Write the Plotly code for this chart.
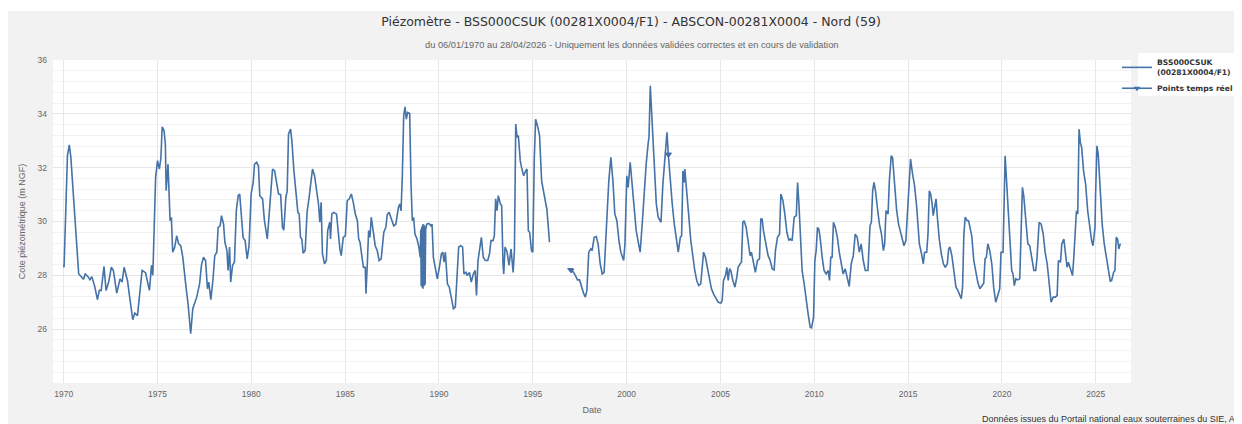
import plotly.graph_objects as go
from datetime import datetime, timedelta

# ---------------- data (decimal years, m NGF) ----------------
dates_dec = [
    1970.00, 1970.02, 1970.20, 1970.30, 1970.38, 1970.55, 1970.69, 1970.80, 1970.94, 1971.05,
    1971.15, 1971.30, 1971.40, 1971.50, 1971.65, 1971.80, 1971.90, 1972.00, 1972.15, 1972.26,
    1972.40, 1972.54, 1972.65, 1972.83, 1973.00, 1973.11, 1973.22, 1973.40, 1973.54, 1973.68,
    1973.79, 1973.93, 1974.18, 1974.36, 1974.57, 1974.68, 1974.75, 1974.90, 1975.00, 1975.10,
    1975.18, 1975.25, 1975.35, 1975.42, 1975.46, 1975.56, 1975.67, 1975.74, 1975.81, 1975.92,
    1976.02, 1976.13, 1976.24, 1976.35, 1976.52, 1976.63, 1976.77, 1976.88, 1977.09, 1977.24,
    1977.34, 1977.45, 1977.56, 1977.66, 1977.73, 1977.84, 1977.95, 1978.05, 1978.16, 1978.23,
    1978.34, 1978.41, 1978.52, 1978.59, 1978.70, 1978.76, 1978.84, 1978.90, 1979.00, 1979.10,
    1979.20, 1979.30, 1979.38, 1979.49, 1979.56, 1979.67, 1979.78, 1979.88, 1979.99, 1980.10,
    1980.17, 1980.28, 1980.38, 1980.45, 1980.60, 1980.70, 1980.85, 1980.90, 1981.02, 1981.13,
    1981.24, 1981.35, 1981.45, 1981.56, 1981.66, 1981.73, 1981.84, 1981.91, 1981.98, 1982.09,
    1982.16, 1982.27, 1982.37, 1982.48, 1982.55, 1982.62, 1982.69, 1982.76, 1982.87, 1982.97,
    1983.08, 1983.19, 1983.26, 1983.37, 1983.47, 1983.58, 1983.65, 1983.72, 1983.79, 1983.90,
    1984.00, 1984.07, 1984.18, 1984.22, 1984.29, 1984.39, 1984.54, 1984.66, 1984.72, 1984.79,
    1984.90, 1985.01, 1985.11, 1985.22, 1985.33, 1985.43, 1985.54, 1985.65, 1985.72, 1985.79,
    1985.86, 1985.97, 1986.07, 1986.11, 1986.18, 1986.25, 1986.32, 1986.39, 1986.49, 1986.60,
    1986.71, 1986.81, 1986.92, 1987.06, 1987.17, 1987.24, 1987.34, 1987.45, 1987.59, 1987.70,
    1987.84, 1987.91, 1987.98, 1988.05, 1988.12, 1988.19, 1988.26, 1988.33, 1988.44, 1988.51,
    1988.58, 1988.65, 1988.72, 1988.83, 1988.93, 1989.00, 1989.03, 1989.05, 1989.08, 1989.10,
    1989.13, 1989.15, 1989.18, 1989.20, 1989.23, 1989.26, 1989.29, 1989.35, 1989.46, 1989.56,
    1989.63, 1989.70, 1989.81, 1989.91, 1990.02, 1990.13, 1990.20, 1990.27, 1990.34, 1990.45,
    1990.55, 1990.66, 1990.77, 1990.87, 1990.98, 1991.05, 1991.16, 1991.26, 1991.33, 1991.44,
    1991.51, 1991.62, 1991.72, 1991.83, 1991.93, 1992.00, 1992.08, 1992.18, 1992.26, 1992.36,
    1992.47, 1992.60, 1992.70, 1992.77, 1992.88, 1992.95, 1993.02, 1993.09, 1993.16, 1993.27,
    1993.34, 1993.41, 1993.45, 1993.52, 1993.63, 1993.73, 1993.84, 1993.95, 1994.02, 1994.09,
    1994.16, 1994.23, 1994.33, 1994.40, 1994.51, 1994.62, 1994.69, 1994.76, 1994.83, 1994.93,
    1995.00, 1995.08, 1995.15, 1995.25, 1995.36, 1995.47, 1995.58, 1995.68, 1995.75, 1995.82,
    1995.89, 1996.40,
    1997.03, 1997.17, 1997.27, 1997.38, 1997.49, 1997.59, 1997.70, 1997.80, 1997.88, 1997.98,
    1998.09, 1998.16, 1998.27, 1998.38, 1998.48, 1998.59, 1998.70, 1998.80, 1998.91, 1999.05,
    1999.16, 1999.27, 1999.37, 1999.48, 1999.59, 1999.69, 1999.84, 1999.91, 2000.01, 2000.08,
    2000.19, 2000.30, 2000.40, 2000.51, 2000.62, 2000.72, 2000.83, 2000.94, 2001.04, 2001.15,
    2001.19, 2001.26, 2001.36, 2001.47, 2001.58, 2001.68, 2001.83, 2001.93, 2002.04, 2002.15,
    2002.22, 2002.32, 2002.43, 2002.54, 2002.64, 2002.75, 2002.86, 2002.93, 2003.00, 2003.07,
    2003.10, 2003.21, 2003.31, 2003.42, 2003.52, 2003.63, 2003.74, 2003.84, 2003.95, 2004.02,
    2004.10, 2004.20, 2004.31, 2004.42, 2004.52, 2004.63, 2004.74, 2004.88, 2005.02, 2005.09,
    2005.16, 2005.27, 2005.34, 2005.41, 2005.48, 2005.55, 2005.66, 2005.77, 2005.87, 2005.94,
    2006.05, 2006.12, 2006.19, 2006.26, 2006.37, 2006.47, 2006.58, 2006.65, 2006.76, 2006.86,
    2006.97, 2007.08, 2007.15, 2007.22, 2007.29, 2007.40, 2007.54, 2007.65, 2007.76, 2007.86,
    2007.93, 2008.04, 2008.15, 2008.22, 2008.33, 2008.43, 2008.54, 2008.65, 2008.72, 2008.82,
    2008.93, 2009.04, 2009.11, 2009.18, 2009.25, 2009.35, 2009.46, 2009.57, 2009.67, 2009.78,
    2009.85, 2009.96, 2010.03, 2010.10, 2010.17, 2010.24, 2010.31, 2010.42, 2010.52, 2010.63,
    2010.74, 2010.81, 2010.88, 2010.95, 2011.02, 2011.12, 2011.23, 2011.33, 2011.44, 2011.54,
    2011.65, 2011.76, 2011.86, 2011.97, 2012.08, 2012.18, 2012.29, 2012.40, 2012.50, 2012.61,
    2012.72, 2012.86, 2012.97, 2013.04, 2013.11, 2013.18, 2013.26, 2013.36, 2013.47, 2013.58,
    2013.68, 2013.75, 2013.82, 2013.93, 2014.00, 2014.10, 2014.17, 2014.28, 2014.39, 2014.49,
    2014.60, 2014.71, 2014.78, 2014.88, 2014.99, 2015.06, 2015.13, 2015.24, 2015.34, 2015.45,
    2015.60, 2015.71, 2015.81, 2015.88, 2015.99, 2016.06, 2016.13, 2016.20, 2016.27, 2016.34,
    2016.42, 2016.49, 2016.56, 2016.66, 2016.77, 2016.88, 2016.98, 2017.09, 2017.16, 2017.23,
    2017.33, 2017.44, 2017.55, 2017.65, 2017.76, 2017.83, 2017.90, 2017.97, 2018.04, 2018.15,
    2018.22, 2018.29, 2018.39, 2018.50, 2018.61, 2018.71, 2018.82, 2018.93, 2019.03, 2019.10,
    2019.17, 2019.25, 2019.35, 2019.46, 2019.56, 2019.67, 2019.78, 2019.88, 2019.95, 2020.06,
    2020.17, 2020.24, 2020.31, 2020.42, 2020.52, 2020.59, 2020.66, 2020.74, 2020.84, 2020.95,
    2021.02, 2021.09, 2021.16, 2021.27, 2021.38, 2021.48, 2021.59, 2021.70, 2021.80, 2021.87,
    2021.98, 2022.09, 2022.20, 2022.30, 2022.41, 2022.52, 2022.62, 2022.73, 2022.84, 2022.94,
    2023.01, 2023.12, 2023.19, 2023.30, 2023.37, 2023.47, 2023.54, 2023.65, 2023.76, 2023.83,
    2023.90, 2023.97, 2024.04, 2024.11, 2024.18, 2024.25, 2024.35, 2024.46, 2024.57, 2024.67,
    2024.78, 2024.85, 2024.96, 2024.99, 2025.06, 2025.13, 2025.24, 2025.34, 2025.45, 2025.56,
    2025.66, 2025.77, 2025.84, 2025.95, 2026.02, 2026.09, 2026.16, 2026.23, 2026.30, 2026.32,
]

levels = [
    28.39, 28.30, 32.44, 32.85, 32.40, 30.65, 29.17, 28.05, 27.95, 27.85,
    28.05, 27.95, 27.84, 27.95, 27.60, 27.10, 27.44, 27.44, 28.33, 27.44,
    27.75, 28.30, 28.18, 27.34, 27.87, 27.75, 28.30, 27.80, 27.06, 26.35,
    26.60, 26.50, 28.18, 28.10, 27.44, 28.37, 28.00, 31.64, 32.26, 31.95,
    32.35, 33.52, 33.37, 32.87, 31.14, 32.13, 30.03, 30.16, 28.86, 29.05,
    29.47, 29.17, 29.10, 28.67, 27.56, 26.94, 25.83, 26.76, 27.19, 27.68,
    28.37, 28.67, 28.55, 27.50, 27.75, 27.10, 27.80, 28.73, 28.86, 29.78,
    29.84, 30.22, 29.90, 29.23, 28.92, 28.18, 29.05, 27.75, 28.37, 28.49,
    30.40, 30.96, 31.02, 30.16, 29.41, 29.29, 28.61, 29.10, 31.02, 31.45,
    32.13, 32.20, 32.07, 30.96, 30.84, 30.03, 29.35, 29.78, 30.90, 31.95,
    31.88, 31.33, 31.02, 31.00, 29.78, 29.68, 30.90, 31.14, 33.25, 33.43,
    33.00, 31.88, 31.02, 30.34, 30.28, 29.41, 29.35, 28.82, 28.92, 30.34,
    30.90, 31.64, 31.95, 31.70, 31.27, 30.65, 29.97, 30.71, 28.80, 28.43,
    28.55, 29.66, 29.97, 29.35, 30.28, 30.34, 30.28, 29.29, 28.98, 28.73,
    29.41, 29.47, 30.77, 30.84, 31.02, 30.71, 30.28, 30.03, 29.35, 29.23,
    28.92, 28.30, 28.30, 27.32, 28.43, 29.66, 29.41, 30.16, 29.66, 29.10,
    28.92, 28.55, 28.61, 29.60, 29.78, 30.25, 30.34, 30.09, 29.84, 29.90,
    30.52, 30.65, 30.40, 31.76, 33.92, 34.26, 33.80, 34.05, 34.01, 31.39,
    30.03, 30.16, 29.53, 29.35, 29.05, 28.67, 29.70, 27.60, 29.80, 27.55,
    29.90, 27.50, 29.90, 27.60, 29.85, 27.65, 29.70, 29.90, 29.93, 29.84,
    29.90, 28.67, 28.24, 27.87, 28.30, 28.80, 28.86, 28.49, 28.86, 27.68,
    27.56, 27.19, 26.76, 26.82, 28.18, 29.05, 29.10, 29.05, 28.05, 28.11,
    27.99, 28.11, 27.75, 28.05, 28.18, 27.25, 28.55, 29.05, 29.41, 28.67,
    28.55, 28.55, 28.82, 29.29, 29.29, 29.47, 30.84, 30.40, 30.96, 30.65,
    30.59, 28.43, 28.05, 29.05, 28.86, 28.37, 28.98, 28.11, 28.92, 33.62,
    33.13, 33.19, 32.26, 32.01, 31.70, 31.88, 31.95, 29.66, 29.60, 28.92,
    28.86, 32.38, 33.80, 33.55, 33.19, 31.51, 31.02, 30.71, 30.46, 29.78,
    29.23, None,
    28.20, 28.11, 27.99, 27.83, 27.83, 27.56, 27.34, 27.19, 27.44, 28.86,
    28.98, 28.92, 29.41, 29.44, 29.17, 28.43, 28.05, 28.11, 29.66, 31.51,
    32.38, 31.51, 30.28, 30.03, 29.29, 28.86, 28.55, 29.17, 31.70, 31.27,
    32.20, 31.39, 30.52, 29.66, 29.23, 28.86, 29.90, 31.14, 32.13, 32.93,
    33.13, 35.04, 33.62, 32.01, 30.65, 30.16, 29.97, 31.39, 32.32, 33.31,
    32.50, 31.51, 30.65, 29.90, 29.47, 28.86, 29.41, 29.47, 31.88, 31.45,
    31.95, 31.14, 30.22, 29.29, 28.67, 28.18, 27.80, 27.62, 27.68, 28.20,
    28.86, 28.67, 28.30, 27.87, 27.50, 27.31, 27.19, 27.00, 26.97, 27.06,
    27.81, 27.99, 28.30, 27.81, 28.24, 28.18, 27.81, 27.56, 27.93, 28.30,
    28.43, 28.49, 29.97, 30.03, 29.78, 29.29, 28.73, 28.86, 28.43, 28.11,
    28.55, 28.61, 30.09, 30.09, 29.66, 29.23, 28.73, 28.55, 28.24, 28.20,
    28.92, 29.41, 29.53, 31.02, 30.77, 30.28, 29.60, 29.29, 29.35, 29.29,
    30.16, 30.22, 31.45, 30.65, 29.41, 28.18, 27.68, 27.19, 26.57, 26.07,
    26.05, 26.45, 28.55, 28.92, 29.78, 29.72, 29.41, 28.67, 28.18, 28.05,
    28.18, 27.81, 28.67, 28.67, 29.97, 29.78, 29.41, 28.86, 28.43, 28.05,
    28.24, 27.87, 27.59, 28.43, 28.73, 29.53, 29.41, 28.86, 29.17, 28.55,
    28.18, 28.18, 29.84, 29.97, 31.14, 31.45, 31.14, 30.52, 29.90, 29.53,
    28.92, 29.17, 30.40, 30.28, 31.51, 32.44, 32.38, 31.39, 30.40, 29.90,
    29.60, 29.29, 29.10, 29.29, 30.77, 31.88, 32.32, 31.75, 31.35, 30.60,
    29.17, 28.82, 28.43, 28.86, 28.86, 29.53, 31.14, 31.02, 30.71, 30.22,
    30.65, 30.84, 30.16, 29.35, 28.80, 28.43, 28.30, 28.43, 28.98, 29.05,
    28.73, 28.18, 27.56, 27.44, 27.25, 27.13, 27.56, 29.53, 30.16, 30.03,
    30.03, 29.78, 29.47, 28.55, 28.05, 27.75, 27.50, 27.62, 27.71, 28.61,
    28.67, 29.17, 28.92, 28.43, 27.56, 27.00, 27.31, 27.50, 28.86, 28.86,
    32.44, 31.64, 30.40, 29.17, 28.18, 28.05, 27.62, 27.87, 27.83, 27.87,
    29.90, 31.27, 30.96, 30.16, 29.17, 29.10, 28.67, 28.18, 28.18, 28.67,
    29.97, 29.90, 29.53, 28.86, 28.43, 27.68, 27.00, 27.19, 27.19, 27.25,
    28.55, 28.49, 29.17, 29.35, 28.98, 28.30, 28.49, 28.24, 27.99, 28.67,
    29.66, 30.40, 30.28, 33.43, 32.93, 32.75, 31.88, 31.39, 30.40, 29.78,
    29.29, 29.10, 29.78, 30.96, 32.81, 32.50, 31.27, 29.90, 29.17, 28.67,
    28.11, 27.78, 27.80, 28.11, 28.18, 29.41, 29.35, 28.98, 29.17, 29.14,
]

# "Points temps réel" (real-time points)
rt_dates_dec = [1997.00, 1997.04, None, 2002.20, 2002.25]
rt_levels = [28.22, 28.18, None, 32.50, 32.50]

series_name = "BSS000CSUK<br>(00281X0004/F1)"
rt_name = "Points temps réel"
title_text = "Piézomètre - BSS000CSUK (00281X0004/F1) - ABSCON-00281X0004 - Nord (59)"
subtitle_text = "du 06/01/1970 au 28/04/2026 - Uniquement les données validées correctes et en cours de validation"
footer_text = "Données issues du Portail national eaux souterraines du SIE, ADES"
y_ticks = [26, 28, 30, 32, 34, 36]


def dec2date(y):
    if y is None:
        return None
    yr = int(y)
    return datetime(yr, 1, 1) + timedelta(days=(y - yr) * 365.25)


x_main = [dec2date(d) for d in dates_dec]
x_rt = [dec2date(d) for d in rt_dates_dec]

LINE = "#4572a7"
FONT = "Liberation Sans"

fig = go.Figure()
fig.add_trace(go.Scatter(
    x=x_main, y=levels, mode="lines", name=series_name,
    line=dict(color=LINE, width=1.6), connectgaps=False,
))
fig.add_trace(go.Scatter(
    x=x_rt, y=rt_levels, mode="lines+markers", name=rt_name,
    line=dict(color=LINE, width=1.6),
    marker=dict(symbol="triangle-down", size=6, color=LINE),
    connectgaps=False,
))

# figure is placed by the page at an 8px offset; work in figure pixels
W, H = 1234, 416
L, R, T, B = 45, 111, 52, 41
pw, ph = W - L - R, H - T - B


def px(xp):
    return (xp - L) / pw


def py(yp):
    return (H - B - yp) / ph


fig.update_layout(
    width=W, height=H,
    margin=dict(l=L, r=R, t=T, b=B, autoexpand=False),
    paper_bgcolor="#f2f2f2",
    plot_bgcolor="#ffffff",
    font=dict(family=FONT, color="#666666", size=9),
    title=dict(text=title_text, x=623 / W, xanchor="center", xref="container",
               y=1 - 14 / H, yanchor="middle",
               font=dict(family="DejaVu Sans", size=12.5, color="#333333")),
    showlegend=True,
    legend=dict(x=px(1109), y=py(43), xanchor="left", yanchor="top",
                bgcolor="rgba(0,0,0,0)", borderwidth=0,
                font=dict(family="DejaVu Sans", size=7.6, color="#333333", weight=700),
                itemwidth=30, tracegroupgap=0),
    xaxis=dict(
        type="date",
        range=[dec2date(1969.43), dec2date(2026.877)],
        tickvals=[datetime(y, 1, 1) for y in range(1970, 2030, 5)],
        ticktext=[str(y) for y in range(1970, 2030, 5)],
        showgrid=True, gridcolor="#e6e6e6", gridwidth=1,
        zeroline=False, showline=False, ticks="",
        ticklabelstandoff=4,
        tickfont=dict(family=FONT, size=8.5, color="#666666"),
        title=dict(text="Date", font=dict(family=FONT, size=9, color="#666666"), standoff=9),
    ),
    yaxis=dict(
        range=[24, 36],
        tickvals=y_ticks,
        ticktext=[str(v) for v in y_ticks],
        showgrid=True, gridcolor="#e6e6e6", gridwidth=1,
        minor=dict(dtick=0.4, tick0=24, showgrid=True, gridcolor="#f2f2f2", gridwidth=1),
        zeroline=False, showline=False, ticks="",
        ticklabelstandoff=5,
        tickfont=dict(family=FONT, size=8.5, color="#666666"),
        title=dict(text="Cote piézométrique (m NGF)", font=dict(family=FONT, size=9, color="#666666"), standoff=10),
    ),
    shapes=[
        # thin white band at the very top
        dict(type="rect", xref="paper", yref="paper", x0=px(-10), x1=px(W + 10), y0=py(3), y1=py(-10),
             fillcolor="#ffffff", line=dict(width=0), layer="below"),
        # legend box
        dict(type="rect", xref="paper", yref="paper", x0=px(1130), x1=px(W + 10), y0=py(88), y1=py(45),
             fillcolor="#ffffff", line=dict(width=0), layer="below"),
    ],
    annotations=[
        dict(text=subtitle_text, xref="paper", yref="paper", x=px(623), y=py(37),
             xanchor="center", yanchor="middle", showarrow=False,
             font=dict(family=FONT, size=9.3, color="#666666")),
        dict(text=footer_text, xref="paper", yref="paper", x=px(972), y=py(411),
             xanchor="left", yanchor="middle", showarrow=False,
             font=dict(family=FONT, size=9, color="#333333")),
    ],
)

fig.write_html("out.html")
